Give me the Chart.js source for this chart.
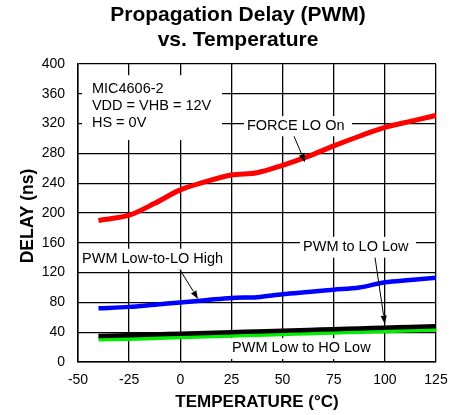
<!DOCTYPE html>
<html>
<head>
<meta charset="utf-8">
<script src="https://cdn.jsdelivr.net/npm/chart.js@4/dist/chart.umd.min.js"></script>
<style>
  html, body { margin: 0; padding: 0; background: #fff; }
  #wrap { width: 466px; height: 415px; }
</style>
</head>
<body>
<div id="wrap"><canvas id="delayChart" width="466" height="415"></canvas></div>
<script>
// ── data ──────────────────────────────────────────────────────────────────
const temps      = [-40, -25, -12.5, 0, 12.5, 25, 37.5, 50, 62.5, 75, 87.5, 100, 112.5, 125];
const forceLoOn  = [190, 197, 213, 231, 242, 251, 254, 264, 276, 290, 303, 315, 323, 331];
const lowToLoHi  = [72, 74, 77, 80, 83, 86, 87, 91, 94, 97, 100, 107, 110, 113];
const pwmToLoLow = [35, 36, 37, 38, 39, 40, 41, 42, 43, 44, 45, 46, 47, 48];
const lowToHoLow = [31, 31.5, 32.5, 34, 35, 36, 37, 38, 39, 40, 41, 42, 43, 44];
const xTicks     = [-50, -25, 0, 25, 50, 75, 100, 125];
const yTicks     = [0, 40, 80, 120, 160, 200, 240, 280, 320, 360, 400];

const FONT = "Arial, 'Liberation Sans', sans-serif";

const pts = ys => temps.map((t, i) => ({ x: t, y: ys[i] }));

// labels in data units: text anchor, white box, optional arrow
const notes = [
  { lines: ['MIC4606-2', 'VDD = VHB = 12V', 'HS = 0V'], x: -43.2, y: [366, 343, 321], box: [-48, 20.4, 385, 298] },
  { lines: ['FORCE LO On'], x: 32.6, y: [317], box: [31.1, 83.9, 330, 303], arrow: [55.6, 303, 61, 268] },
  { lines: ['PWM Low-to-LO High'], x: -48, y: [138], box: [-49, 23.3, 152, 124], arrow: [-0.2, 124, 8.7, 84.6] },
  { lines: ['PWM to LO Low'], x: 60, y: [154], box: [58.5, 115.2, 168, 140], arrow: [95.2, 140, 100, 51] },
  { lines: ['PWM Low to HO Low'], x: 25.3, y: [19], box: [23.8, 96, 32, 4] }
];

const notesPlugin = {
  id: 'notes',
  afterDatasetsDraw(chart) {
    const { ctx, scales: { x, y } } = chart;
    ctx.save();
    notes.forEach(n => {
      const [x0, x1, y0, y1] = n.box;
      ctx.fillStyle = '#fff';
      ctx.fillRect(x.getPixelForValue(x0), y.getPixelForValue(y0),
        x.getPixelForValue(x1) - x.getPixelForValue(x0), y.getPixelForValue(y1) - y.getPixelForValue(y0));
      ctx.fillStyle = '#000';
      ctx.font = '14.5px ' + FONT;
      ctx.textAlign = 'left';
      ctx.textBaseline = 'middle';
      n.lines.forEach((t, i) => ctx.fillText(t, x.getPixelForValue(n.x), y.getPixelForValue(n.y[i])));
      if (n.arrow) {
        const ax = x.getPixelForValue(n.arrow[0]), ay = y.getPixelForValue(n.arrow[1]);
        const bx = x.getPixelForValue(n.arrow[2]), by = y.getPixelForValue(n.arrow[3]);
        const a = Math.atan2(by - ay, bx - ax), L = 9, W = 0.35;
        ctx.strokeStyle = '#000';
        ctx.lineWidth = 1;
        ctx.beginPath();
        ctx.moveTo(ax, ay);
        ctx.lineTo(bx - L * Math.cos(a), by - L * Math.sin(a));
        ctx.stroke();
        ctx.beginPath();
        ctx.moveTo(bx, by);
        ctx.lineTo(bx - L * Math.cos(a - W), by - L * Math.sin(a - W));
        ctx.lineTo(bx - L * Math.cos(a + W), by - L * Math.sin(a + W));
        ctx.closePath();
        ctx.fill();
      }
    });
    ctx.restore();
  }
};

// chart title and both axis titles, placed by hand
const titlesPlugin = {
  id: 'titles',
  afterDraw(chart) {
    const { ctx, chartArea: a } = chart;
    ctx.save();
    ctx.fillStyle = '#000';
    ctx.textAlign = 'center';
    ctx.textBaseline = 'middle';
    ctx.font = 'bold 21px ' + FONT;
    ctx.fillText('Propagation Delay (PWM)', 238, 15);
    ctx.fillText('vs. Temperature', 238, 40);
    ctx.font = 'bold 17px ' + FONT;
    ctx.fillText('TEMPERATURE (°C)', (a.left + a.right) / 2, 402);
    ctx.translate(28, 216);
    ctx.rotate(-Math.PI / 2);
    ctx.font = 'bold 17.5px ' + FONT;
    ctx.fillText('DELAY (ns)', 0, 0);
    ctx.restore();
  }
};

new Chart(document.getElementById('delayChart'), {
  type: 'line',
  data: {
    datasets: [
      { label: 'FORCE LO On',        data: pts(forceLoOn),  borderColor: '#ff0000', borderWidth: 5,   order: 1 },
      { label: 'PWM Low-to-LO High', data: pts(lowToLoHi),  borderColor: '#0000ff', borderWidth: 4.5, order: 2 },
      { label: 'PWM to LO Low',      data: pts(pwmToLoLow), borderColor: '#000000', borderWidth: 4.5, order: 3 },
      { label: 'PWM Low to HO Low',  data: pts(lowToHoLow), borderColor: '#00ee00', borderWidth: 5,   order: 4 }
    ]
  },
  options: {
    responsive: false,
    animation: false,
    devicePixelRatio: 1,
    layout: { padding: { top: 64, right: 30, left: 0, bottom: 0 } },
    elements: { point: { radius: 0 }, line: { tension: 0.4, cubicInterpolationMode: 'monotone' } },
    plugins: { legend: { display: false }, tooltip: { enabled: false }, title: { display: false } },
    scales: {
      x: {
        type: 'linear', min: -50, max: 125,
        afterFit: s => { s.height = 53; },
        afterBuildTicks: s => { s.ticks = xTicks.map(v => ({ value: v })); },
        ticks: { color: '#000', font: { family: FONT, size: 14 }, padding: 10, maxRotation: 0 },
        grid: { color: '#000', lineWidth: 1.3, drawTicks: false },
        border: { color: '#000', width: 1.5 }
      },
      y: {
        type: 'linear', min: 0, max: 400,
        afterFit: s => { s.width = 78; },
        afterBuildTicks: s => { s.ticks = yTicks.map(v => ({ value: v })); },
        ticks: { color: '#000', font: { family: FONT, size: 14 }, padding: 13 },
        grid: { color: '#000', lineWidth: 1.3, drawTicks: false },
        border: { color: '#000', width: 1.5 }
      }
    }
  },
  plugins: [notesPlugin, titlesPlugin]
});
</script>
</body>
</html>
